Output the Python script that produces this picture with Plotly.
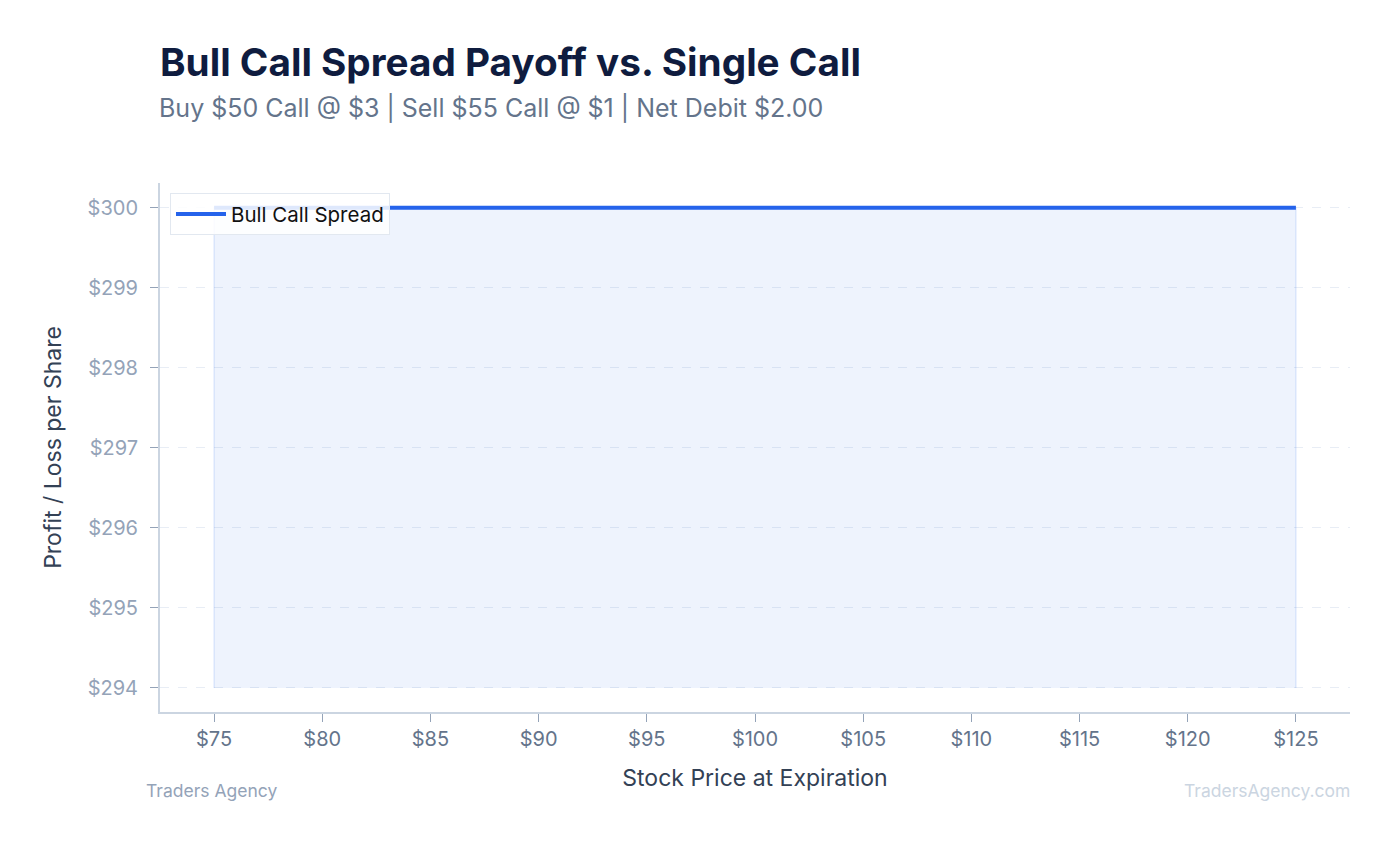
import plotly.graph_objects as go

# данные графика
prices = [75, 80, 85, 90, 95, 100, 105, 110, 115, 120, 125]
spread_pl = [300, 300, 300, 300, 300, 300, 300, 300, 300, 300, 300]
y_floor = 294
tick_vals_x = [75, 80, 85, 90, 95, 100, 105, 110, 115, 120, 125]
tick_vals_y = [294, 295, 296, 297, 298, 299, 300]

title_text = "Bull Call Spread Payoff vs. Single Call"
subtitle_text = "Buy $50 Call @ $3 | Sell $55 Call @ $1 | Net Debit $2.00"

fig = go.Figure()

# заливка под линией спреда
fill_x = [prices[0]] + prices + [prices[-1]]
fill_y = [y_floor] + spread_pl + [y_floor]
fig.add_trace(go.Scatter(
    x=fill_x, y=fill_y, fill="toself", mode="lines",
    line=dict(color="rgba(37,99,235,0.12)", width=1.5),
    fillcolor="rgba(37,99,235,0.08)",
    showlegend=False, hoverinfo="skip",
))

fig.add_trace(go.Scatter(
    x=prices, y=spread_pl, mode="lines", name="Bull Call Spread",
    line=dict(color="#2563eb", width=4),
))

fig.update_layout(
    width=1394, height=845,
    paper_bgcolor="white", plot_bgcolor="white",
    font=dict(family="Inter", color="#334155"),
    margin=dict(l=152, r=52, t=175, b=141),
    title=dict(
        text=f"<b>{title_text}</b>",
        x=0, xanchor="left", xref="paper",
        y=1 - 54 / 845, yanchor="middle", yref="container",
        font=dict(size=38.7, color="#0f1c3f", family="Inter"),
    ),
    legend=dict(
        x=0.0084, y=0.981, xanchor="left", yanchor="top",
        bgcolor="rgba(255,255,255,0.85)", bordercolor="#e2e8f0", borderwidth=1,
        font=dict(size=20.5, color="#111111"),
        itemwidth=50,
    ),
    showlegend=True,
)

fig.add_annotation(
    text=subtitle_text, xref="paper", yref="paper",
    x=-3 / 1190, y=1 + (183 - 108) / 529, xanchor="left", yanchor="middle",
    showarrow=False, font=dict(size=25, color="#64748b"),
)
fig.add_annotation(
    text="Traders Agency", xref="paper", yref="paper",
    x=-16 / 1190, y=-(790 - 712) / 529, xanchor="left", yanchor="middle",
    showarrow=False, font=dict(size=17.5, color="#94a3b8"),
)
fig.add_annotation(
    text="TradersAgency.com", xref="paper", yref="paper",
    x=1.002, y=-(790 - 712) / 529, xanchor="right", yanchor="middle",
    showarrow=False, font=dict(size=17.5, color="#cbd5e1"),
)

fig.update_xaxes(
    range=[72.5, 127.5], tickvals=tick_vals_x,
    ticktext=[f"${v}" for v in tick_vals_x],
    showgrid=False, zeroline=False,
    showline=True, linecolor="#cbd5e1", linewidth=2,
    ticks="outside", ticklen=8, tickcolor="#94a3b8",
    tickfont=dict(size=20, color="#64748b"),
    title=dict(text="Stock Price at Expiration", font=dict(size=23, color="#334155"), standoff=20),
)
fig.update_yaxes(
    range=[293.7, 300.31], tickvals=tick_vals_y,
    ticktext=[f"${v}" for v in tick_vals_y],
    showgrid=True, gridcolor="#e8edf5", griddash="dash", gridwidth=1,
    zeroline=False,
    showline=True, linecolor="#cbd5e1", linewidth=2,
    ticks="outside", ticklen=8, tickcolor="#94a3b8",
    ticklabelstandoff=8,
    tickfont=dict(size=20, color="#94a3b8"),
    title=dict(text="Profit / Loss per Share", font=dict(size=23, color="#334155"), standoff=20),
)

fig.write_html("out.html")
